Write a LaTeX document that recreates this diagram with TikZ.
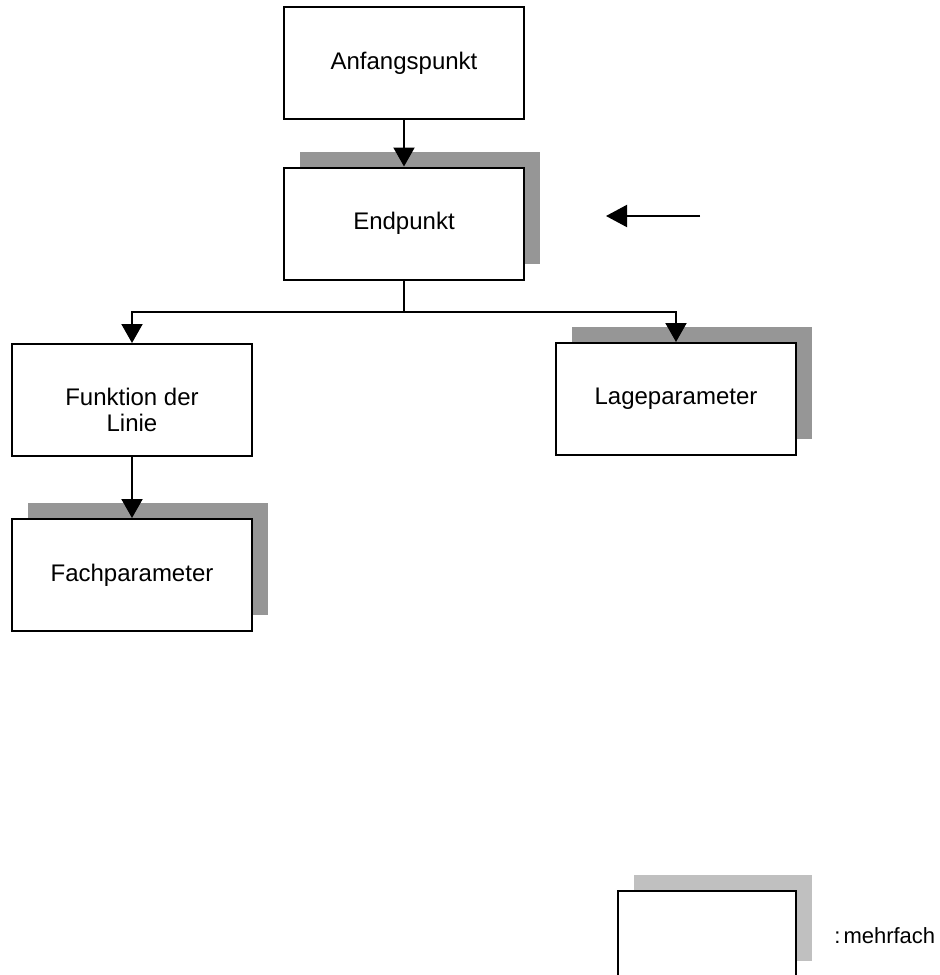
\documentclass[tikz,border=0pt]{standalone}
\usepackage{fontspec}
\setmainfont{Liberation Sans}
\usetikzlibrary{arrows.meta,shadows}
\definecolor{schattengrau}{RGB}{150,150,150}
\definecolor{legendengrau}{RGB}{192,192,192}
\tikzset{
	kasten/.style={draw=black, line width=1pt, fill=white, minimum width=120pt, minimum height=56pt, align=center, inner sep=0pt, font=\fontsize{12}{13}\selectfont},
	mehrfach/.style={kasten, drop shadow={shadow xshift=8pt, shadow yshift=8pt, fill=#1, opacity=1}},
	mehrfach/.default=schattengrau,
	pfeil/.style={line width=1pt, -{Triangle[width=10.5pt,length=9.5pt]}},
	linie/.style={line width=1pt}
}

\begin{document}
\begin{tikzpicture}[x=0.5pt, y=-0.5pt]
			%%%%% START %%%%%
			
			\useasboundingbox (0, 0) rectangle (940, 975);
			
			\node[kasten] (anfang) at (404, 63) {Anfangspunkt};
			\node[mehrfach] (end) at (404, 223.5) {Endpunkt};
			
			\node[kasten] (funktion) at (132, 400) {\rule{0pt}{19pt}Funktion der\\Linie};
			\node[mehrfach] (lage) at (676, 399) {Lageparameter};
			\node[mehrfach] (fach) at (132, 575) {Fachparameter};
			
			\draw[pfeil] (anfang.south) -- (end.north);
			
			\coordinate (verzweig) at (404, 312);
			\draw[linie] (end.south) -- (verzweig);
			\draw[pfeil] (verzweig) -| (funktion.north);
			\draw[pfeil] (verzweig) -| (lage.north);
			
			\draw[pfeil] (funktion.south) -- (fach.north);
			
			\coordinate (zeigerstart) at (700, 216);
			\coordinate (zeigerende) at (606, 216);
			\draw[line width=1pt, -{Triangle[width=11pt,length=10.5pt]}] (zeigerstart) -- (zeigerende);
			
			% Legende
			\node[mehrfach=legendengrau, minimum width=89pt, minimum height=43pt] (legende) at (707, 934) {};
			\node[anchor=west, inner sep=0pt, font=\fontsize{11}{13}\selectfont] (legendtext) at (834, 936) {:\kern1.5pt mehrfach};
			
			%%%%% END %%%%%
\end{tikzpicture}
\end{document}
